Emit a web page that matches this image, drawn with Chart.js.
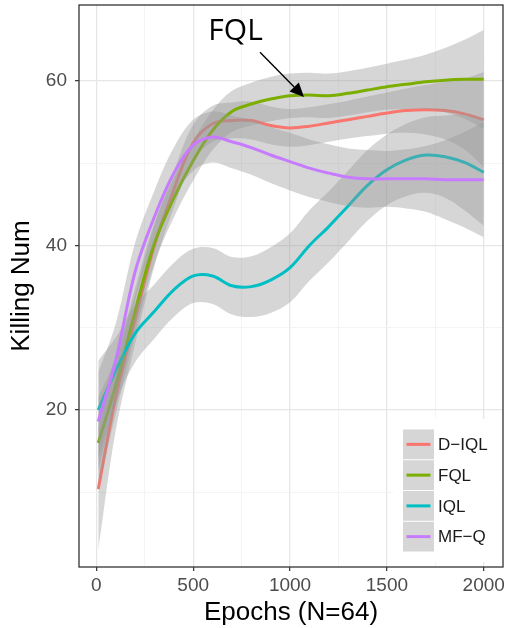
<!DOCTYPE html>
<html>
<head>
<meta charset="utf-8">
<script src="https://cdn.jsdelivr.net/npm/chart.js@4.4.1/dist/chart.umd.min.js"></script>
<style>
  html, body { margin: 0; padding: 0; background: #fff; }
  #wrap { width: 509px; height: 628px; }
</style>
</head>
<body>
<div id="wrap"><canvas id="c" width="509" height="628"></canvas></div>
<script>
// Epoch positions of the smoothed curves
const epochs = [10, 100, 200, 300, 400, 500, 600, 700, 800, 900, 1000,
                1100, 1200, 1300, 1400, 1500, 1600, 1700, 1800, 1900, 2000];

// Smoothed killing counts and their confidence bands
const diqlMean  = [10.4, 21.5, 31.0, 40.0, 46.8, 52.5, 54.8, 55.2, 55.2, 54.6, 54.3, 54.5, 54.9, 55.3, 55.7, 56.1, 56.4, 56.5, 56.4, 56.0, 55.3];
const diqlLower = [3.0, 17.5, 28.0, 37.5, 44.6, 50.3, 52.6, 53.0, 52.9, 52.3, 52.0, 52.2, 52.6, 53.0, 53.3, 53.6, 53.7, 53.5, 52.9, 51.7, 49.5];
const diqlUpper = [17.8, 25.5, 34.0, 42.5, 49.0, 54.7, 57.0, 57.4, 57.5, 56.9, 56.6, 56.8, 57.2, 57.6, 58.1, 58.6, 59.1, 59.5, 59.9, 60.3, 61.1];

const fqlMean  = [16.0, 23.0, 32.0, 40.3, 45.8, 50.3, 54.0, 56.3, 57.2, 57.8, 58.2, 58.3, 58.2, 58.5, 58.9, 59.3, 59.6, 59.9, 60.1, 60.2, 60.2];
const fqlLower = [10.5, 19.5, 29.2, 37.8, 43.4, 47.9, 51.6, 53.8, 54.6, 55.1, 55.5, 55.6, 55.5, 55.8, 56.2, 56.5, 56.6, 56.6, 56.2, 55.4, 54.2];
const fqlUpper = [21.5, 26.5, 34.8, 42.8, 48.2, 52.7, 56.4, 58.8, 59.8, 60.5, 60.9, 61.0, 60.9, 61.2, 61.6, 62.1, 62.6, 63.2, 64.0, 65.0, 66.2];

const iqlMean  = [20.0, 24.8, 29.3, 32.0, 34.6, 36.3, 36.3, 35.1, 35.0, 35.8, 37.3, 40.0, 42.3, 44.8, 47.3, 49.2, 50.4, 51.0, 50.8, 50.1, 48.9];
const iqlLower = [14.0, 20.8, 25.8, 28.7, 31.3, 33.0, 32.9, 31.6, 31.3, 31.8, 33.1, 35.7, 38.0, 40.5, 43.0, 44.9, 46.0, 46.4, 45.8, 44.3, 42.4];
const iqlUpper = [26.0, 28.8, 32.8, 35.3, 37.9, 39.6, 39.7, 38.6, 38.7, 39.8, 41.5, 44.3, 46.6, 49.1, 51.6, 53.5, 54.8, 55.6, 55.8, 55.9, 55.4];

const mfqMean  = [18.6, 26.0, 36.8, 43.5, 48.8, 52.2, 53.2, 52.6, 51.9, 51.0, 50.2, 49.4, 48.8, 48.3, 48.1, 48.1, 48.1, 48.1, 48.0, 48.0, 48.0];
const mfqLower = [12.6, 21.5, 33.3, 40.3, 45.7, 49.1, 50.1, 49.4, 48.6, 47.6, 46.7, 45.9, 45.3, 44.8, 44.6, 44.7, 44.5, 44.1, 43.2, 42.2, 41.0];
const mfqUpper = [24.6, 30.5, 40.3, 46.7, 51.9, 55.3, 56.3, 55.8, 55.2, 54.4, 53.7, 52.9, 52.3, 51.8, 51.6, 51.5, 51.7, 52.1, 52.8, 53.8, 55.0];

// Axis breaks
const xMajorTicks = [0, 500, 1000, 1500, 2000];
const xMinorTicks = [250, 750, 1250, 1750];
const yMajorTicks = [20, 40, 60];
const yMinorTicks = [10, 30, 50];

// Callout pointing at the FQL curve (data units)
const calloutText = 'FQL';
const calloutLabelAt = [719, 65.0];
const calloutFrom = [845, 63.5];
const calloutTo = [1072, 58.05];

const series = [
  { name: 'D\u2212IQL', color: '#F8766D', mean: diqlMean, lower: diqlLower, upper: diqlUpper },
  { name: 'FQL',        color: '#7CAE00', mean: fqlMean,  lower: fqlLower,  upper: fqlUpper },
  { name: 'IQL',        color: '#00BFC4', mean: iqlMean,  lower: iqlLower,  upper: iqlUpper },
  { name: 'MF\u2212Q',  color: '#C77CFF', mean: mfqMean,  lower: mfqLower,  upper: mfqUpper }
];

const BAND = 'rgba(153,153,153,0.4)';
const SMOOTH = 0.35;
const pts = arr => arr.map((v, i) => ({ x: epochs[i], y: v }));

// Each group: lower edge, ribbon (filled to lower edge), fitted line.
// Higher "order" is painted first, so group 0 ribbon/line sit underneath later groups.
const datasets = [];
series.forEach((s, k) => {
  const ribbonOrder = 2 * (series.length - k);
  const lowerIdx = datasets.length;
  datasets.push({
    label: s.name + ' lower', data: pts(s.lower), borderWidth: 0, pointRadius: 0,
    fill: false, order: ribbonOrder, tension: SMOOTH
  });
  datasets.push({
    label: s.name + ' upper', data: pts(s.upper), borderWidth: 0, pointRadius: 0,
    backgroundColor: BAND, fill: { target: lowerIdx }, order: ribbonOrder, tension: SMOOTH
  });
  datasets.push({
    label: s.name, data: pts(s.mean), borderColor: s.color, borderWidth: 3,
    pointRadius: 0, fill: false, order: ribbonOrder - 1, tension: SMOOTH,
    borderCapStyle: 'butt'
  });
});

const isMajorX = v => xMajorTicks.includes(v);
const isMajorY = v => yMajorTicks.includes(v);

// ggplot-like panel border drawn above the data
const panelBorder = {
  id: 'panelBorder',
  afterDatasetsDraw(chart) {
    const { ctx, chartArea: a } = chart;
    ctx.save();
    ctx.strokeStyle = '#333333';
    ctx.lineWidth = 1.3;
    ctx.strokeRect(a.left, a.top, a.right - a.left, a.bottom - a.top);
    ctx.restore();
  }
};

// Legend inside the panel: grey key boxes with coloured strokes
const keyLegend = {
  id: 'keyLegend',
  afterDraw(chart) {
    const ctx = chart.ctx;
    const keyX = 403, keyW = 31, keyTop = 429, keyH = 30.75;
    ctx.save();
    ctx.fillStyle = '#ffffff';
    ctx.fillRect(393, 419, 108, 143);
    series.forEach((s, i) => {
      const y0 = keyTop + i * keyH;
      ctx.fillStyle = '#d6d6d6';
      ctx.fillRect(keyX, y0 + 0.5, keyW, keyH - 1);
      ctx.strokeStyle = s.color;
      ctx.lineWidth = 3;
      ctx.beginPath();
      ctx.moveTo(keyX + 3.5, y0 + keyH / 2);
      ctx.lineTo(keyX + keyW - 3.5, y0 + keyH / 2);
      ctx.stroke();
      ctx.fillStyle = '#1a1a1a';
      ctx.font = '17px "Liberation Sans", Arial, sans-serif';
      ctx.textBaseline = 'middle';
      ctx.textAlign = 'left';
      ctx.fillText(s.name, 438, y0 + keyH / 2 + 1);
    });
    ctx.restore();
  }
};

// Text callout with an arrow
const callout = {
  id: 'callout',
  afterDraw(chart) {
    const { ctx, scales: { x, y } } = chart;
    const lx = x.getPixelForValue(calloutLabelAt[0]);
    const ly = y.getPixelForValue(calloutLabelAt[1]);
    const fx = x.getPixelForValue(calloutFrom[0]);
    const fy = y.getPixelForValue(calloutFrom[1]);
    const tx = x.getPixelForValue(calloutTo[0]);
    const ty = y.getPixelForValue(calloutTo[1]);
    ctx.save();
    ctx.fillStyle = '#000';
    ctx.font = '30px "Open Sans", sans-serif';
    ctx.textAlign = 'center';
    ctx.textBaseline = 'alphabetic';
    ctx.fillText(calloutText, lx, ly);
    const ang = Math.atan2(ty - fy, tx - fx);
    const headLen = 14, headHalf = 6.5;
    const bx = tx - headLen * Math.cos(ang), by = ty - headLen * Math.sin(ang);
    ctx.strokeStyle = '#000';
    ctx.lineWidth = 1.4;
    ctx.beginPath();
    ctx.moveTo(fx, fy);
    ctx.lineTo(bx, by);
    ctx.stroke();
    ctx.beginPath();
    ctx.moveTo(tx, ty);
    ctx.lineTo(bx + headHalf * Math.sin(ang), by - headHalf * Math.cos(ang));
    ctx.lineTo(bx - headHalf * Math.sin(ang), by + headHalf * Math.cos(ang));
    ctx.closePath();
    ctx.fill();
    ctx.restore();
  }
};

const tickFont = { family: '"Liberation Sans", Arial, sans-serif', size: 19 };
const titleFont = { family: '"Liberation Sans", Arial, sans-serif', size: 26 };

new Chart(document.getElementById('c'), {
  type: 'line',
  data: { datasets },
  options: {
    responsive: false,
    animation: false,
    devicePixelRatio: 1,
    layout: { padding: { top: 5, right: 6, left: 0, bottom: 0 } },
    plugins: {
      legend: { display: false },
      tooltip: { enabled: false },
      filler: { drawTime: 'beforeDatasetDraw' }
    },
    scales: {
      x: {
        type: 'linear',
        min: -89.5,
        max: 2099.5,
        afterBuildTicks(axis) {
          axis.ticks = [...xMajorTicks, ...xMinorTicks].sort((a, b) => a - b).map(v => ({ value: v }));
        },
        afterFit(axis) {
          axis.height = 61;
          axis.paddingLeft = 0;
          axis.paddingRight = 0;
        },
        ticks: {
          autoSkip: false, maxRotation: 0, color: '#4d4d4d', font: tickFont, padding: 3,
          callback: v => (isMajorX(v) ? String(v) : '')
        },
        grid: {
          color: c => (isMajorX(c.tick.value) ? '#e6e6e6' : '#f1f1f1'),
          lineWidth: c => (isMajorX(c.tick.value) ? 1.3 : 0.8),
          tickColor: c => (isMajorX(c.tick.value) ? '#333333' : 'rgba(0,0,0,0)'),
          tickWidth: 1.2,
          tickLength: 4
        },
        border: { display: false },
        title: { display: true, text: 'Epochs (N=64)', color: '#000', font: titleFont, padding: 0 }
      },
      y: {
        type: 'linear',
        min: 0.91,
        max: 69.24,
        afterBuildTicks(axis) {
          axis.ticks = [...yMinorTicks, ...yMajorTicks].sort((a, b) => a - b).map(v => ({ value: v }));
        },
        afterFit(axis) {
          axis.width = 79;
          axis.paddingTop = 0;
          axis.paddingBottom = 0;
        },
        ticks: {
          autoSkip: false, color: '#4d4d4d', font: tickFont, padding: 8,
          callback: v => (isMajorY(v) ? String(v) : '')
        },
        grid: {
          color: c => (isMajorY(c.tick.value) ? '#e6e6e6' : '#f1f1f1'),
          lineWidth: c => (isMajorY(c.tick.value) ? 1.3 : 0.8),
          tickColor: c => (isMajorY(c.tick.value) ? '#333333' : 'rgba(0,0,0,0)'),
          tickWidth: 1.2,
          tickLength: 4
        },
        border: { display: false },
        title: { display: true, text: 'Killing Num', color: '#000', font: titleFont, padding: { top: 6, bottom: 0 } }
      }
    }
  },
  plugins: [panelBorder, keyLegend, callout]
});
</script>
</body>
</html>
